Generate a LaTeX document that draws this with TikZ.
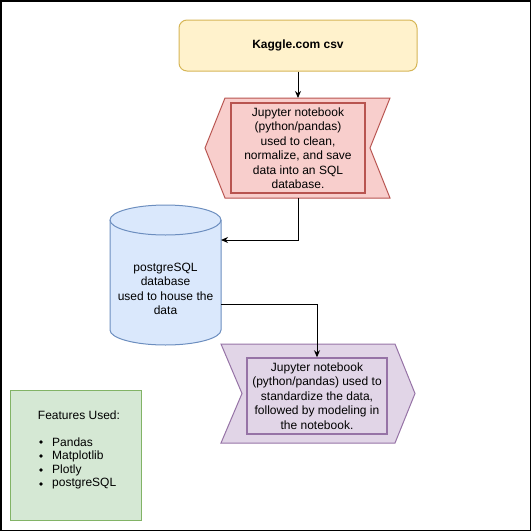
\documentclass[tikz,border=0pt]{standalone}
\usepackage{fontspec}
\setmainfont{Liberation Sans}
\usetikzlibrary{arrows.meta}
\definecolor{yfill}{HTML}{FFF2CC}\definecolor{ydraw}{HTML}{D6B656}
\definecolor{rfill}{HTML}{F8CECC}\definecolor{rdraw}{HTML}{B85450}
\definecolor{bfill}{HTML}{DAE8FC}\definecolor{bdraw}{HTML}{6C8EBF}
\definecolor{pfill}{HTML}{E1D5E7}\definecolor{pdraw}{HTML}{9673A6}
\definecolor{gfill}{HTML}{D5E8D4}\definecolor{gdraw}{HTML}{82B366}
\tikzset{
  txt/.style={font=\fontsize{12}{14.5}\selectfont, align=center, inner sep=0pt},
  conn/.style={draw=black, line width=1pt, -{Stealth[length=7pt,width=6pt]}},
  line/.style={draw=black, line width=1pt},
}
\begin{document}
\begin{tikzpicture}[x=1pt,y=-1pt]
\useasboundingbox (0,0) rectangle (531,531);
\draw[line width=1.5pt] (0.75,0.75) rectangle (530.25,530.25);

% Kaggle box
\node[txt, draw=ydraw, fill=yfill, line width=1pt, rounded corners=8pt,
      minimum width=238pt, minimum height=51pt, font=\fontsize{12}{14.5}\selectfont\bfseries]
      (kag) at (298,45.5) {Kaggle.com csv};

% Red step shape
\draw[draw=rdraw, fill=rfill, line width=1pt]
  (225,98) -- (390,98) -- (370,148) -- (390,198) -- (225,198) -- (205,148) -- cycle;
\coordinate (redN) at (298,98);
\coordinate (redS) at (298,198);
\node[txt, draw=rdraw, line width=2pt, minimum width=134pt, minimum height=90pt]
  (rin) at (298,148)
  {Jupyter notebook\\(python/pandas)\\ used to clean,\\normalize, and save\\data into an SQL\\database.};

% Cylinder
\draw[draw=bdraw, fill=bfill, line width=1pt]
  (110,220) -- (110,330) arc[start angle=180, end angle=360, x radius=55.5pt, y radius=15pt]
  -- (221,220) arc[start angle=0, end angle=180, x radius=55.5pt, y radius=15pt] -- cycle;
\draw[draw=bdraw, line width=1pt]
  (110,220) arc[start angle=180, end angle=360, x radius=55.5pt, y radius=15pt];
\node[txt, minimum width=111pt, minimum height=140pt] (db) at (165.5,289)
  {postgreSQL\\database\\used to house the\\data};
\coordinate (dbIn) at (221,240);
\coordinate (dbOut) at (221,304);

% Purple step shape
\draw[draw=pdraw, fill=pfill, line width=1pt]
  (221,344) -- (395,344) -- (415,393.5) -- (395,443) -- (221,443) -- (242,393.5) -- cycle;
\node[txt, draw=pdraw, line width=1.5pt, minimum width=140pt, minimum height=76pt]
  (pin) at (317,396)
  {Jupyter notebook\\(python/pandas) used to\\standardize the data,\\followed by modeling in\\the notebook.};

% Features box
\node[draw=gdraw, fill=gfill, line width=1pt, minimum width=131pt, minimum height=130pt]
  (feat) at (75.5,455) {};
\node[txt] (fh) at (79,415) {Features Used:};
\foreach \y/\t/\n in {442/Pandas/fa, 456/Matplotlib/fb, 470/Plotly/fc, 484/postgreSQL/fd}{
  \fill (41,\y) circle[radius=1.8pt];
  \node[txt, anchor=west] (\n) at (52,\y) {\t};
}

% Connectors
\draw[conn] (kag.south) -- (redN);
\draw[conn] (redS) |- (dbIn);
\draw[conn] (dbOut) -| (pin.north);
\end{tikzpicture}
\end{document}
